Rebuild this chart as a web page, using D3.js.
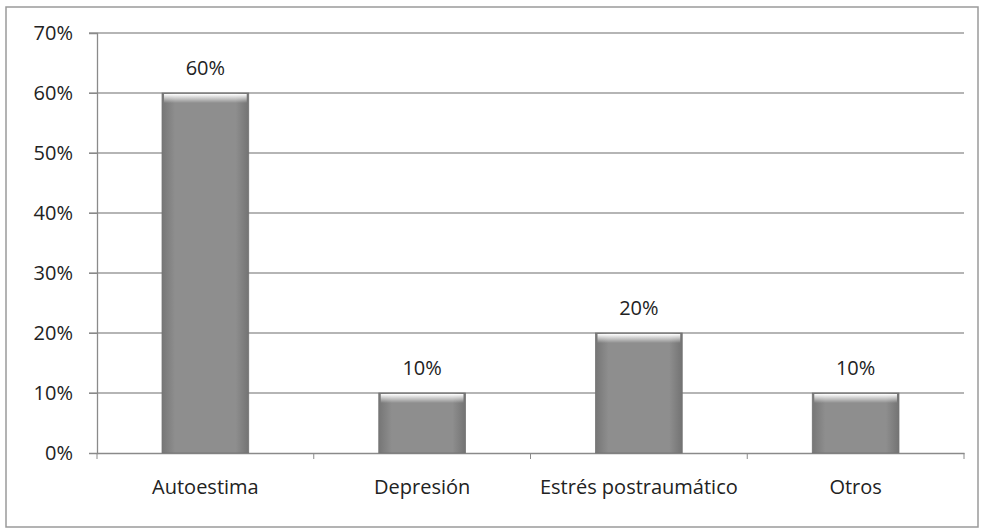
<!DOCTYPE html>
<html>
<head>
<meta charset="utf-8">
<script src="https://cdn.jsdelivr.net/npm/d3@7"></script>
<style>
  body { margin: 0; background: #fff; }
  svg text { font-family: "Open Sans", Lato, sans-serif; fill: #222; }
</style>
</head>
<body>
<svg id="chart" width="986" height="531"></svg>
<script>
var categories = ["Autoestima", "Depresión", "Estrés postraumático", "Otros"];
var valeurs = [0.60, 0.10, 0.20, 0.10];
var ticks = [0, 0.1, 0.2, 0.3, 0.4, 0.5, 0.6, 0.7];

var marge = {haut: 33, droite: 22, bas: 78, gauche: 97};
var largeur = 986, hauteur = 531;

var svg = d3.select("#chart");

// cadre extérieur
svg.append("rect")
    .attr("x", 6).attr("y", 7)
    .attr("width", 972).attr("height", 520)
    .attr("fill", "none")
    .attr("stroke", "#9a9a9a")
    .attr("stroke-width", 1.5);

var xScale = d3.scaleBand().domain(categories)
    .range([marge.gauche, largeur - marge.droite])
    .paddingInner(0.6).paddingOuter(0.3);
var yScale = d3.scaleLinear().domain([0, 0.7])
    .range([hauteur - marge.bas, marge.haut]);

// dégradé des barres
var defs = svg.append("defs");
var grad = defs.append("linearGradient").attr("id", "barre")
    .attr("x1", 0).attr("y1", 0).attr("x2", 1).attr("y2", 0);
grad.append("stop").attr("offset", "0%").attr("stop-color", "#767676");
grad.append("stop").attr("offset", "15%").attr("stop-color", "#8e8e8e");
grad.append("stop").attr("offset", "85%").attr("stop-color", "#8e8e8e");
grad.append("stop").attr("offset", "100%").attr("stop-color", "#737373");
var haut = defs.append("linearGradient").attr("id", "hautbarre")
    .attr("x1", 0).attr("y1", 0).attr("x2", 0).attr("y2", 1);
haut.append("stop").attr("offset", "0%").attr("stop-color", "#ffffff");
haut.append("stop").attr("offset", "100%").attr("stop-color", "#ffffff").attr("stop-opacity", 0);

// grille
svg.append("g").selectAll("line")
    .data(ticks.slice(1))
    .enter().append("line")
    .attr("x1", marge.gauche - 8)
    .attr("x2", largeur - marge.droite)
    .attr("y1", d => yScale(d))
    .attr("y2", d => yScale(d))
    .attr("stroke", "#9c9c9c")
    .attr("stroke-width", 1.3);

var yAxis = g => g
    .attr("transform", `translate(${marge.gauche},0)`)
    .call(d3.axisLeft(yScale).tickValues(ticks).tickFormat(d3.format(".0%")).tickSize(8).tickPadding(16))
    .call(g => g.select(".domain").attr("stroke", "#8a8a8a").attr("stroke-width", 1.3))
    .call(g => g.selectAll(".tick line").attr("stroke", "#8a8a8a"))
    .call(g => g.selectAll(".tick text").style("font-size", "20px").attr("fill", "#222"));

var bords = [marge.gauche].concat(categories.map(c => xScale(c) + xScale.bandwidth() / 2 + xScale.step() / 2));
var xAxis = g => g
    .attr("transform", `translate(0,${hauteur - marge.bas})`)
    .call(d3.axisBottom(xScale).tickSize(0).tickPadding(27))
    .call(g => g.select(".domain").attr("stroke", "#8a8a8a").attr("stroke-width", 1.3))
    .call(g => g.selectAll(".tick text").style("font-size", "20px").attr("fill", "#222"));

svg.append("g").call(xAxis);
svg.append("g").selectAll("line")
    .data(bords)
    .enter().append("line")
    .attr("x1", d => d).attr("x2", d => d)
    .attr("y1", hauteur - marge.bas).attr("y2", hauteur - marge.bas + 6)
    .attr("stroke", "#8a8a8a");
svg.append("g").call(yAxis);

// barres
var barres = svg.append("g").selectAll("g")
    .data(categories)
    .enter().append("g");
barres.append("rect")
    .attr("x", d => xScale(d))
    .attr("y", (d, i) => yScale(valeurs[i]))
    .attr("width", xScale.bandwidth())
    .attr("height", (d, i) => yScale(0) - yScale(valeurs[i]))
    .attr("fill", "url(#barre)")
    .attr("stroke", "#737373")
    .attr("stroke-width", 0.8);
barres.append("rect")
    .attr("x", d => xScale(d) + 2)
    .attr("y", (d, i) => yScale(valeurs[i]) + 1)
    .attr("width", xScale.bandwidth() - 4)
    .attr("height", 9)
    .attr("fill", "url(#hautbarre)");

// étiquettes de valeur
barres.append("text")
    .attr("x", d => xScale(d) + xScale.bandwidth() / 2)
    .attr("y", (d, i) => yScale(valeurs[i]) - 18)
    .attr("text-anchor", "middle")
    .style("font-size", "20px")
    .text((d, i) => d3.format(".0%")(valeurs[i]));
</script>
</body>
</html>
